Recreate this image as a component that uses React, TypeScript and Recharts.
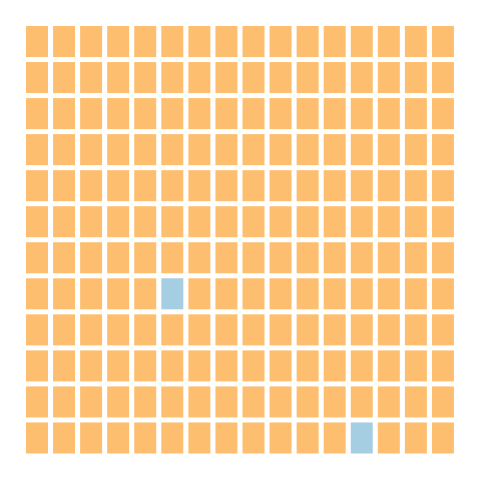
import * as React from "react";
import { BarChart, Bar, Cell, XAxis, YAxis } from "recharts";

// waffle grid: 16 columns x 12 rows, each cell = 1 unit
const columns = Array.from({ length: 16 }, (_, i) => `c${i + 1}`);
const rows = Array.from({ length: 12 }, (_, i) => `r${i}`); // r0 = bottom row
// highlighted cells: [column index, row index from bottom]
const blueCells: [number, number][] = [
  [5, 4],
  [12, 0],
];

const ORANGE = "#fdbf6f";
const BLUE = "#a6cee3";

const data = columns.map((name) => {
  const obj: Record<string, string | number> = { name };
  rows.forEach((r) => (obj[r] = 1));
  return obj;
});

const isBlue = (c: number, r: number) =>
  blueCells.some(([bc, br]) => bc === c && br === r);

function Tile(props: any) {
  const { x, y, width, height, fill } = props;
  const g = 2.5;
  return (
    <rect
      x={x + g}
      y={y + g}
      width={Math.max(0, width - 2 * g)}
      height={Math.max(0, height - 2 * g)}
      fill={fill}
    />
  );
}

export default function App() {
  return (
    <div style={{ position: "absolute", left: 0, top: 0 }}>
      <BarChart
        width={480}
        height={480}
        data={data}
        barCategoryGap={0}
        margin={{ top: 23.5, right: 23.5, bottom: 24, left: 23.5 }}
      >
        <XAxis dataKey="name" hide />
        <YAxis hide domain={[0, 12]} />
        {rows.map((r, ri) => (
          <Bar
            key={r}
            dataKey={r}
            stackId="w"
            isAnimationActive={false}
            shape={<Tile />}
          >
            {data.map((_, ci) => (
              <Cell key={ci} fill={isBlue(ci, ri) ? BLUE : ORANGE} />
            ))}
          </Bar>
        ))}
      </BarChart>
    </div>
  );
}
